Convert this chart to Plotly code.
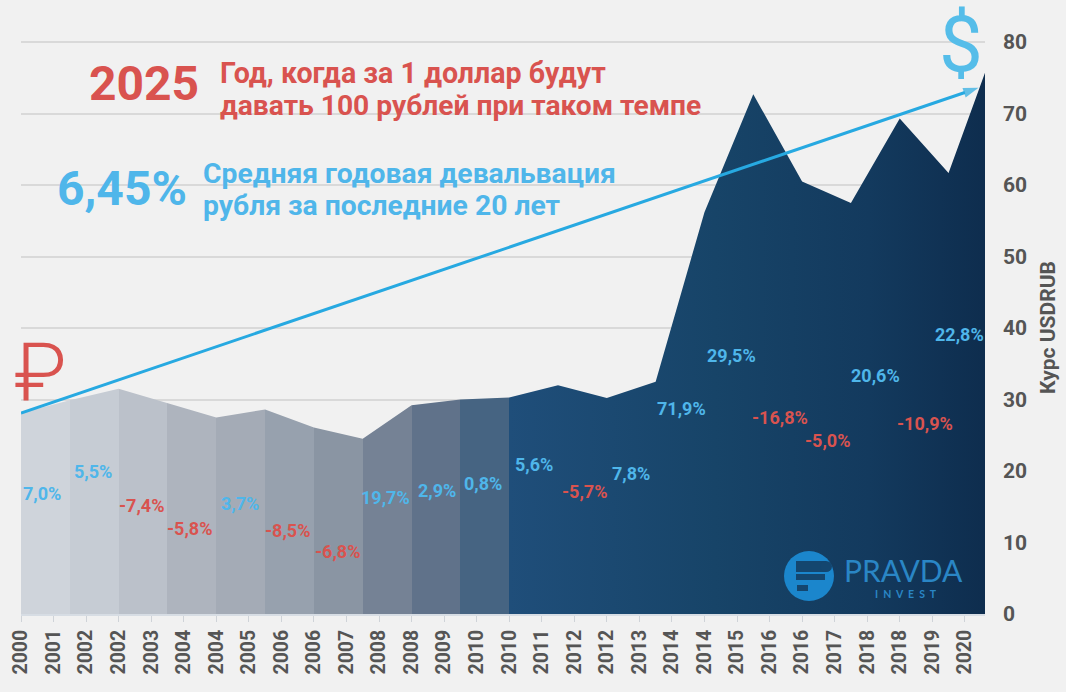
import plotly.graph_objects as go

tick_labels = ["2000","2001","2002","2002","2003","2004","2004","2005","2006","2006",
               "2007","2008","2008","2009","2010","2010","2011","2012","2012","2013",
               "2014","2014","2015","2016","2016","2017","2018","2018","2019","2020"]
rate_x = [0,1.5,3,4.5,6,7.5,9,10.5,12,13.5,15,16.5,18,19.5,21,22.5,24,25.5,27,28.5,29.62]
rate_y = [28.1,29.9,31.5,29.5,27.5,28.6,26.1,24.5,29.2,30,30.3,32,30.2,32.5,56.2,72.7,60.5,57.5,69.3,61.7,75.7]
trend_x = [0,29.42]
trend_y = [28.1,73.6]
pct_text = ["7,0%","5,5%","-7,4%","-5,8%","3,7%","-8,5%","-6,8%","19,7%","2,9%","0,8%",
            "5,6%","-5,7%","7,8%","71,9%","29,5%","-16,8%","-5,0%","20,6%","-10,9%","22,8%"]
pct_x = [0.65,2.21,3.69,5.19,6.73,8.2,9.74,11.21,12.78,14.19,15.76,17.3,18.74,20.28,21.84,23.32,24.79,26.24,27.77,28.85]
pct_y = [16.8,20,15.2,11.9,15.4,11.7,8.8,16.3,17.3,18.3,20.9,17.2,19.7,28.8,36.2,27.5,24.3,33.4,26.7,39.1]
y_ticks = [0,10,20,30,40,50,60,70,80]

RED = "#d9534f"
BLUE = "#4fb6ea"
W, H = 1066, 692
L, R, T, B = 21, 985, 41, 614

def X(p): return (p - L) / (R - L)
def Y(p): return (B - p) / (B - T)

span = rate_x[-1]
blocks = ["#cfd4db","#c6ccd4","#bbc1ca","#aeb4be","#a4abb6","#97a1ae","#8a95a3","#758295","#60728a","#466482"]
stops = []
for i, c in enumerate(blocks):
    stops += [[i * 1.5 / span, c], [(i + 1) * 1.5 / span, c]]
stops += [[15 / span, "#1f4e7a"], [0.72, "#174468"], [0.88, "#133a5e"], [1, "#0e2d4e"]]

fig = go.Figure()
fig.add_trace(go.Scatter(x=rate_x, y=rate_y, mode="lines", line=dict(width=0, color="#1f4e7a"),
                         fill="tozeroy",
                         fillgradient=dict(type="horizontal", colorscale=stops),
                         hoverinfo="skip", showlegend=False))
fig.add_trace(go.Scatter(x=trend_x, y=trend_y, mode="lines+markers",
                         line=dict(color="#27a9e1", width=3),
                         marker=dict(symbol=["circle", "arrow"], size=[0, 16], color="#27a9e1",
                                     angleref="previous", line=dict(width=0)),
                         hoverinfo="skip", showlegend=False))

for t, x, y in zip(pct_text, pct_x, pct_y):
    fig.add_annotation(x=x, y=y, text=f"<b>{t}</b>", showarrow=False,
                       font=dict(family="Roboto", size=18, color=RED if t.startswith("-") else BLUE))

def txt(text, px, py, size, color, anchor="left", family="Roboto", bold=True, weight=None, height=None):
    f = dict(family=family, size=size, color=color)
    if weight:
        f["weight"] = weight
    fig.add_annotation(xref="paper", yref="paper", x=X(px), y=Y(py), xanchor=anchor, yanchor="middle",
                       text=f"<b>{text}</b>" if bold else text, showarrow=False, font=f, height=height)

txt("2025", 87, 84, 48, RED)
txt("Год, когда за 1 доллар будут", 218, 73, 28.6, RED)
txt("давать 100 рублей при таком темпе", 218, 105, 28.2, RED)
txt("6,45%", 55, 188, 48, BLUE)
txt("Средняя годовая девальвация", 201, 173, 28.3, BLUE)
txt("рубля за последние 20 лет", 201, 205, 28.3, BLUE)
txt("₽", 40, 373, 82, RED, "center", "Roboto", False, 300, 76)
txt("$", 961, 44, 78, "#55bde9", "center", "Roboto", False, 400, 84)
txt("PRAVDA", 842, 570, 30, "#2a86c5", "left", "Lato", False, None, 24)
txt("I&nbsp;&nbsp;N&nbsp;&nbsp;V&nbsp;&nbsp;E&nbsp;&nbsp;S&nbsp;&nbsp;T", 906, 593, 10.5, "#2a86c5", "center", "Lato", True, None, 11)

def shape(kind, x0, y0, x1, y1, color):
    fig.add_shape(type=kind, xref="paper", yref="paper", x0=X(x0), x1=X(x1), y0=Y(y0), y1=Y(y1),
                  fillcolor=color, line=dict(width=0))

NAVY = "#14466f"
shape("circle", 784, 551, 834, 601, "#1b86cc")
shape("rect", 796, 561, 826, 572, NAVY)
shape("circle", 820, 561, 832, 572, NAVY)
shape("rect", 796, 574, 825, 580, NAVY)
shape("rect", 797, 585, 808, 591, NAVY)

fig.update_layout(
    width=W, height=H, paper_bgcolor="#f1f1f1", plot_bgcolor="#f1f1f1", showlegend=False,
    margin=dict(l=L, r=W - R, t=T, b=H - B, pad=0, autoexpand=False),
    font=dict(family="Roboto"),
    xaxis=dict(range=[0, span], tickmode="array", tickvals=list(range(len(tick_labels))),
               ticktext=[f"<b>{t}</b>" for t in tick_labels], tickangle=-90, automargin=False,
               tickfont=dict(size=19.5, color="#555555"), ticks="outside", ticklen=6, tickwidth=1,
               tickcolor="#cfd3d8", showgrid=False, zeroline=False, showline=True,
               linecolor="#d7dde4", linewidth=2),
    yaxis=dict(range=[0, 80.15], side="right", tickmode="array", tickvals=y_ticks, automargin=False,
               ticktext=[f"<b>{v}</b>" for v in y_ticks], ticklabelstandoff=17,
               tickfont=dict(size=21, color="#555555"), ticks="", showline=False, zeroline=False,
               gridcolor="#d9d9d9", gridwidth=2,
               title=dict(text="<b>Курс USDRUB</b>", font=dict(size=21, color="#555555"), standoff=14)),
)
fig.write_html("out.html", config=dict(displayModeBar=False),
               post_script="document.documentElement.style.margin='0';document.body.style.margin='0';document.body.style.background='#f1f1f1';")
